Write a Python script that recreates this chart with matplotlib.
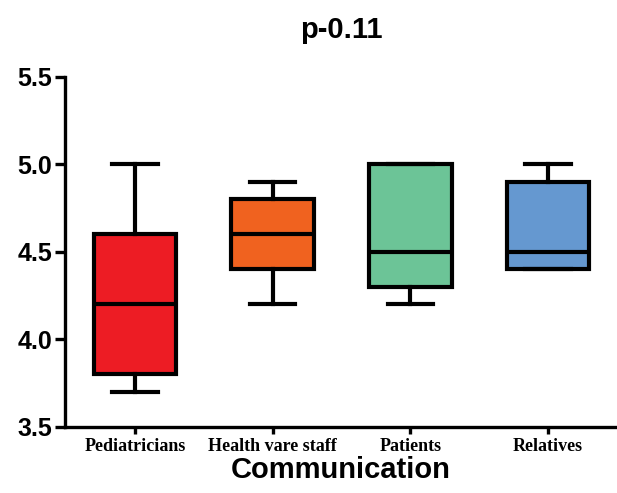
import matplotlib.pyplot as plt

groups = ['Pediatricians', 'Health vare staff', 'Patients', 'Relatives']
low = [3.7, 4.2, 4.2, 4.4]
q1 = [3.8, 4.4, 4.3, 4.4]
med = [4.2, 4.6, 4.5, 4.5]
q3 = [4.6, 4.8, 5.0, 4.9]
high = [5.0, 4.9, 5.0, 5.0]
colors = ['#ED1C24', '#F0621F', '#6CC497', '#6598D0']

stats = []
for i in range(len(groups)):
    stats.append({'whislo': low[i], 'q1': q1[i], 'med': med[i],
                  'q3': q3[i], 'whishi': high[i], 'label': groups[i]})

fig = plt.figure(figsize=(6.17, 4.93), dpi=100)
ax = fig.add_axes([0.105, 0.134, 0.895, 0.71])

lw = 3.0
bp = ax.bxp(stats, positions=range(1, 5), widths=0.6, patch_artist=True,
            showfliers=False,
            boxprops=dict(linewidth=lw, edgecolor='black'),
            medianprops=dict(linewidth=lw, color='black'),
            whiskerprops=dict(linewidth=lw, color='black'),
            capprops=dict(linewidth=lw, color='black'),
            capwidths=0.33)
for patch, c in zip(bp['boxes'], colors):
    patch.set_facecolor(c)

ax.set_xlim(0.49, 4.5)
ax.set_ylim(3.5, 5.5)
ax.set_yticks([3.5, 4.0, 4.5, 5.0, 5.5])
ax.set_yticklabels(['3.5', '4.0', '4.5', '5.0', '5.5'],
                   fontsize=18, fontweight='bold', family='Liberation Sans')
ax.set_xticks(range(1, 5))
ax.set_xticklabels(groups, fontsize=13, fontweight='bold', family='Liberation Serif')

ax.spines['top'].set_visible(False)
ax.spines['right'].set_visible(False)
ax.spines['left'].set_linewidth(2.4)
ax.spines['bottom'].set_linewidth(2.4)
ax.tick_params(axis='y', length=7, width=2.4, pad=2)
ax.tick_params(axis='x', length=5, width=2.4, pad=3)

ax.set_xlabel('Communication', fontsize=21, fontweight='bold',
              family='Liberation Sans', labelpad=1)
ax.set_title('p-0.11', fontsize=21, fontweight='bold',
             family='Liberation Sans', pad=28)

fig.savefig('out.png', dpi=100)
